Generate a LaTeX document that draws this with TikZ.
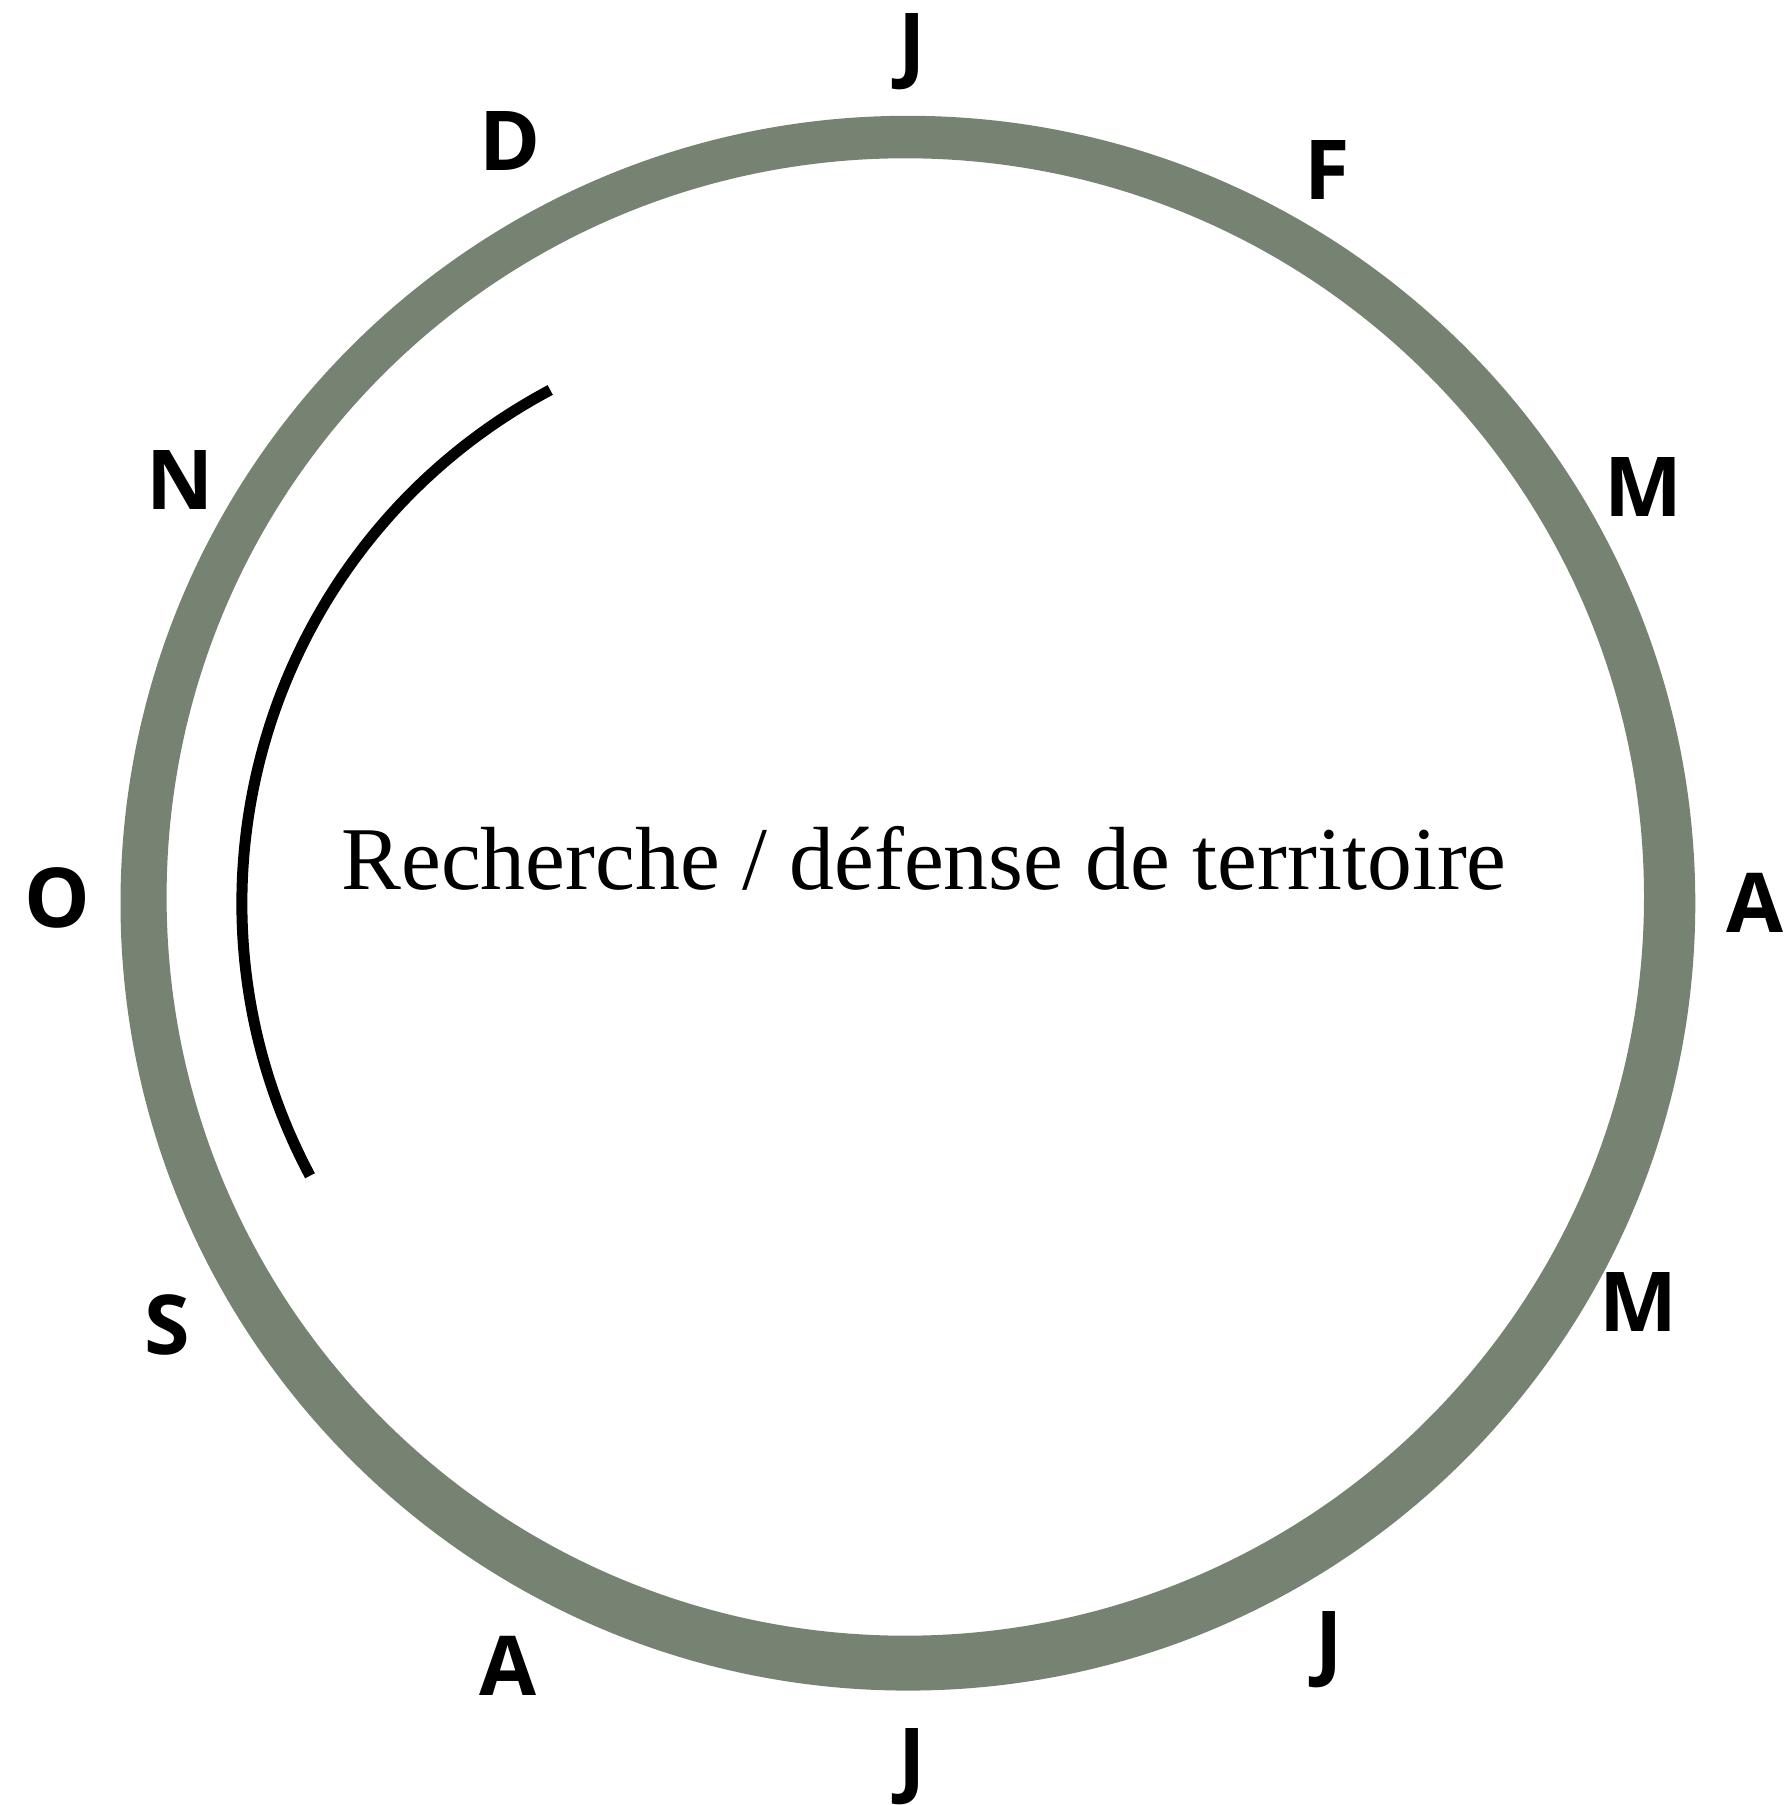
\documentclass[tikz,border=0pt]{standalone}
\usepackage{fontspec}
\setmainfont{Liberation Serif}
\newfontfamily\monthfont{Open Sans}
\usepackage{tikz}
\usetikzlibrary{positioning}
\definecolor{cyclegreen}{HTML}{768372}

\begin{document}
\begin{tikzpicture}[x=0.01cm,y=0.01cm,
  month/.style={inner sep=0pt,anchor=center,
    font=\monthfont\bfseries\fontsize{23.5}{28}\selectfont},
  every node/.style={text=black}]
  \useasboundingbox (0,0) rectangle (1791,1805);
  % year ring
  \fill[cyclegreen,even odd rule] (907.9,901.8) circle[radius=787.4]
    (905.3,908) circle[radius=738.7];
  % activity period
  \coordinate (arcc) at (823,902);
  \draw[line width=0.11cm] (arcc) ++(118:581)
    arc[start angle=118,end angle=208,radius=581];
  \node[anchor=base,font=\fontsize{25.5}{30}\selectfont] (activity) at (924,915)
    {Recherche / défense de territoire};
  % months
  \node[month] (jan) at (912,1753.5) {J};
  \node[month] (feb) at (1327.6,1635.2) {F};
  \node[month] (mar) at (1643,1318.1) {M};
  \node[month] (apr) at (1755,902) {A};
  \node[month] (may) at (1638.4,503.2) {M};
  \node[month] (jun) at (1329,155) {J};
  \node[month] (jul) at (912,38.5) {J};
  \node[month] (aug) at (508.2,139) {A};
  \node[month] (sep) at (166.9,480.2) {S};
  \node[month] (oct) at (57,907.5) {O};
  \node[month] (nov) at (179.6,1325) {N};
  \node[month] (dec) at (510.5,1664) {D};
\end{tikzpicture}
\end{document}
